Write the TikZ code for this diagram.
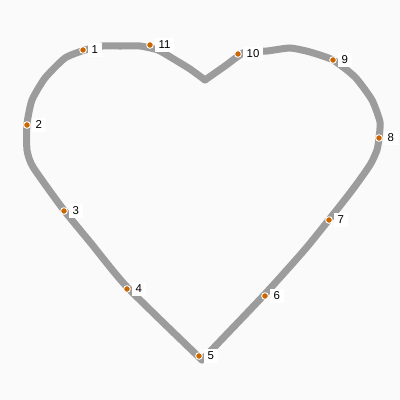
\documentclass[tikz,border=0pt]{standalone}
\usepackage{fontspec}
\setmainfont{Liberation Sans}
\usetikzlibrary{positioning}
\definecolor{heartgray}{HTML}{9C9C9C}
\definecolor{spotorange}{HTML}{CC6600}
\tikzset{
  spot/.style={circle, fill=spotorange, draw=white, line width=0.5pt, inner sep=0pt, minimum size=3.8pt},
  tag/.style={fill=white, inner xsep=2pt, inner ysep=1.8pt, font=\fontsize{6.5}{7}\selectfont},
  outline/.style={heartgray, line width=4pt, line cap=round, line join=round}
}

\begin{document}
\begin{tikzpicture}[x=0.02cm, y=-0.02cm]
    % Background and frame
    \fill[white!98!black] (0,0) rectangle (400,400);
    \useasboundingbox (0,0) rectangle (400,400);

    % Draw heart outline
    \draw[outline] plot[smooth, tension=0.35] coordinates {(205,80) (190,69) (172,58) (158,50) (140,46) (120,46) (103,46) (85,50) (65,58) (45,78) (32,100) (27,124) (27,150) (33,167) (63,209) (90,242) (127,287) (202,360)};
    \draw[outline] plot[smooth, tension=0.35] coordinates {(202,360) (265,294) (307,247) (350,193) (370,165) (377,150) (379,138) (380,122) (372,100) (355,77) (333,60) (310,52) (290,48) (267,51) (245,52) (225,66) (205,80)};

    % Points
    \foreach \i/\x/\y in {1/83/50, 2/27/125, 3/64/211, 4/127/289, 5/199/356, 6/265/296, 7/329/220, 8/379/138, 9/333/60, 10/238/54, 11/150/45} {
      % Draw points and labels
      \node[spot] (p\i) at (\x,\y) {};
      \node[tag, right=0.6pt of p\i] (t\i) {\i};
    }

\end{tikzpicture}
\end{document}
